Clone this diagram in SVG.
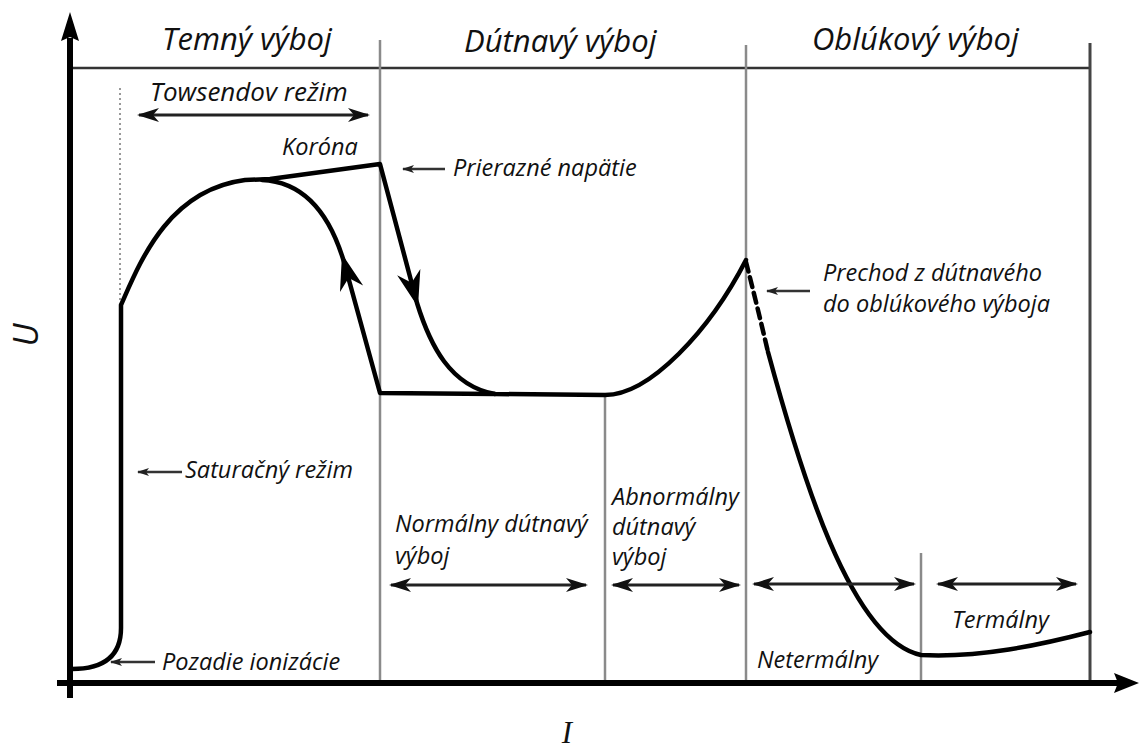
<svg xmlns="http://www.w3.org/2000/svg" width="1139" height="749" viewBox="0 0 1139 749">
<style>
text{font-family:"Open Sans","Noto Sans","DejaVu Sans",sans-serif;font-style:italic;fill:#111}
.h{font-size:31px}
.l{font-size:23.5px}
.curve{fill:none;stroke:#000;stroke-width:4.5;stroke-linejoin:round;stroke-linecap:round}
.grid{stroke:#8a8a8a;stroke-width:2.5;fill:none}
.dbl{stroke:#222;stroke-width:3;fill:none;marker-start:url(#dh);marker-end:url(#dh)}
.ptr{stroke:#333;stroke-width:2.5;fill:none;marker-end:url(#sh)}
</style>
<defs>
<marker id="dh" viewBox="0 0 22 14" refX="20" refY="7" markerWidth="22" markerHeight="14" markerUnits="userSpaceOnUse" orient="auto-start-reverse">
<path d="M0,0 L22,7 L0,14 L6,7 z" fill="#111"/>
</marker>
<marker id="sh" viewBox="0 0 12 8" refX="11" refY="4" markerWidth="12" markerHeight="8" markerUnits="userSpaceOnUse" orient="auto">
<path d="M0,0 L12,4 L0,8 L3,4 z" fill="#222"/>
</marker>
<path id="bigHead" d="M0,0 L-36,-12 L-25,0 L-36,12 z" fill="#000"/>
</defs>

<g id="frame">
<line x1="72" y1="68" x2="1090" y2="68" stroke="#333" stroke-width="2.5"/>
<line class="grid" x1="380" y1="40" x2="380" y2="683"/>
<line class="grid" x1="746" y1="45" x2="746" y2="683"/>
<line class="grid" x1="605" y1="396" x2="605" y2="683"/>
<line class="grid" x1="921" y1="553" x2="921" y2="683"/>
<line x1="1090" y1="43" x2="1090" y2="683" stroke="#444" stroke-width="3"/>
<line x1="120" y1="88" x2="120" y2="302" stroke="#999" stroke-width="2" stroke-dasharray="2,3"/>
</g>

<g id="axes">
<line x1="70" y1="698" x2="70" y2="38" stroke="#000" stroke-width="6"/>
<path d="M70,12 L79,41 L70,37 L61,41 z" fill="#000"/>
<line x1="57" y1="683" x2="1118" y2="683" stroke="#000" stroke-width="6"/>
<path d="M1139,683 L1114,693 L1118,683 L1114,673 z" fill="#000"/>
<text x="38" y="335" transform="rotate(-90 38 335)" text-anchor="middle" style="font-size:34px">U</text>
<text x="567" y="743" text-anchor="middle" style="font-family:'Liberation Serif','DejaVu Serif',serif;font-size:31px">I</text>
</g>

<g id="headers">
<text class="h" x="162" y="50">Temný výboj</text>
<text class="h" x="464" y="52">Dútnavý výboj</text>
<text class="h" x="812" y="50">Oblúkový výboj</text>
</g>

<g id="curve">
<path class="curve" d="M72,669 C104,669 121,656 121,628 L121,305 C140,262 168,190 245,180 L270,179 L380,164 L417,303 C430,345 450,386 495,394 L605,395 C650,395 710,330 746,260"/>
<path class="curve" d="M495,394 L380,393 L344,262 C330,215 305,182 262,180"/>
<path class="curve" d="M746,262 Q757,305 768,352" stroke-dasharray="10,6"/>
<path class="curve" d="M768,352 C800,470 850,640 921,655 C980,658 1040,645 1090,632"/>
<use href="#bigHead" transform="translate(418,307) rotate(75.1)"/>
<use href="#bigHead" transform="translate(342,254) rotate(254.6)"/>
</g>

<g id="towsend">
<text x="150" y="101" style="font-size:26px">Towsendov režim</text>
<line class="dbl" x1="139" y1="115" x2="368" y2="115"/>
</g>

<g id="korona"><text class="l" x="282" y="155">Koróna</text></g>

<g id="prierazne">
<line class="ptr" x1="445" y1="169" x2="403" y2="169"/>
<text class="l" x="453" y="176">Prierazné napätie</text>
</g>

<g id="prechod">
<line class="ptr" x1="810" y1="291" x2="767" y2="291"/>
<text class="l" x="823" y="281">Prechod z dútnavého</text>
<text class="l" x="823" y="312">do oblúkového výboja</text>
</g>

<g id="saturacny">
<line class="ptr" x1="182" y1="472" x2="138" y2="472"/>
<text class="l" x="185" y="478">Saturačný režim</text>
</g>

<g id="pozadie">
<line class="ptr" x1="155" y1="662" x2="111" y2="662"/>
<text class="l" x="162" y="670">Pozadie ionizácie</text>
</g>

<g id="normalny">
<text class="l" x="395" y="532">Normálny dútnavý</text>
<text class="l" x="395" y="564">výboj</text>
<line class="dbl" x1="391" y1="585" x2="586" y2="585"/>
</g>

<g id="abnormalny">
<text class="l" x="612" y="505">Abnormálny</text>
<text class="l" x="612" y="535">dútnavý</text>
<text class="l" x="612" y="565">výboj</text>
<line class="dbl" x1="613" y1="585" x2="739" y2="585"/>
</g>

<g id="netermalny">
<line class="dbl" x1="754" y1="584" x2="914" y2="584"/>
<text class="l" x="757" y="668">Netermálny</text>
</g>

<g id="termalny">
<line class="dbl" x1="938" y1="584" x2="1076" y2="584"/>
<text class="l" x="952" y="628">Termálny</text>
</g>
</svg>
